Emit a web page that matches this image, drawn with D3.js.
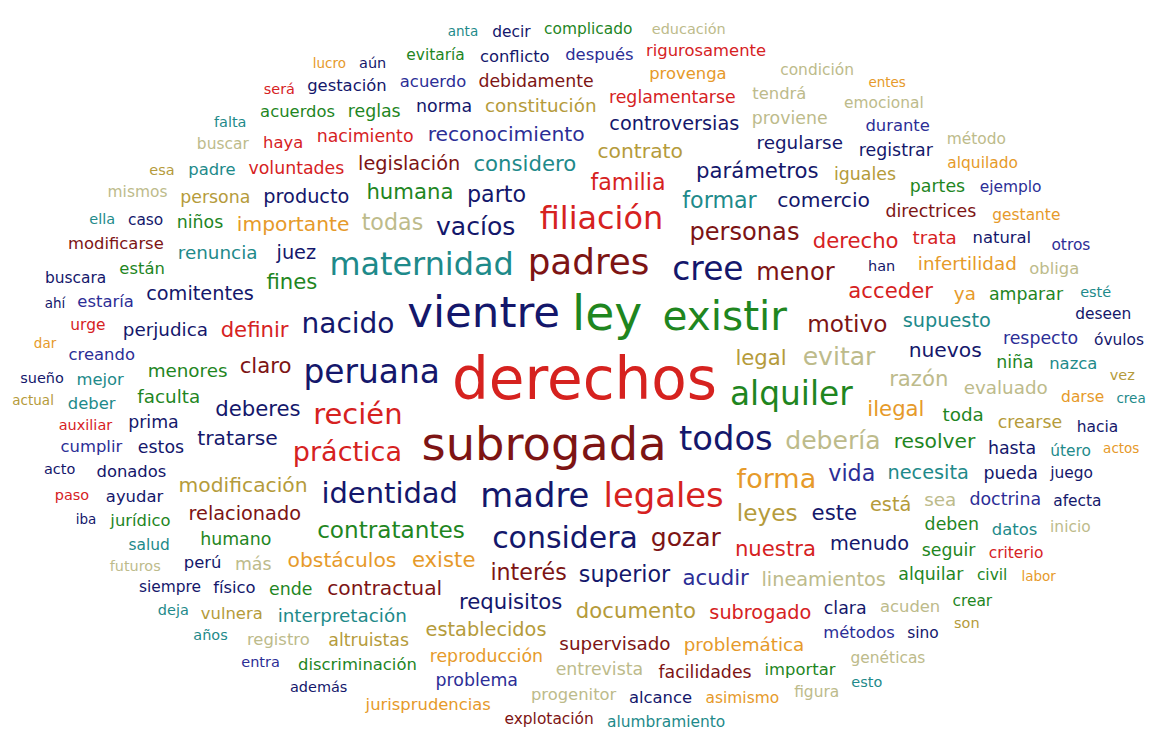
<!DOCTYPE html>
<html>
<head>
<meta charset="utf-8">
<script src="https://cdn.jsdelivr.net/npm/d3@7"></script>
<style>
  html, body { margin: 0; background: #fff; }
  svg { display: block; }
</style>
</head>
<body>
<div id="cloud"></div>
<script>
const width = 1158;
const height = 751;

// colour groups: 0 navy, 1 blue, 2 red, 3 maroon, 4 green, 5 teal, 6 orange, 7 olive, 8 khaki
const groupColors = ["#14176b", "#2c2e96", "#d6221f", "#7d1414", "#1f861f", "#1e8a8a", "#e69a2a", "#b59b3b", "#bdbb8b"];

// [word, frequency, colour group]
const topWords = [
    ["derechos", 47, 2], ["ley", 36, 4], ["subrogada", 35, 3], ["vientre", 32, 0],
    ["existir", 29, 4], ["padres", 24, 3], ["todos", 22, 0], ["madre", 22, 0],
    ["legales", 22, 2], ["alquiler", 21, 4], ["peruana", 21, 0], ["cree", 21, 0],
    ["maternidad", 20, 5], ["filiación", 20, 2], ["considera", 18, 0], ["recién", 17, 2],
    ["identidad", 17, 0], ["nacido", 16, 0], ["práctica", 15, 2], ["forma", 15, 6],
    ["debería", 13, 8], ["evitar", 13, 8], ["vacíos", 13, 0], ["gozar", 13, 3]
];

const midWords = [
    ["personas", 12, 3], ["menor", 12, 3], ["contratantes", 11, 4], ["motivo", 11, 3],
    ["leyes", 11, 7], ["parto", 10, 0], ["interés", 10, 3], ["superior", 10, 0],
    ["formar", 10, 5], ["familia", 10, 2], ["todas", 10, 8], ["vida", 10, 1],
    ["existe", 9, 6], ["legal", 9, 7], ["nuestra", 9, 2], ["ilegal", 9, 6],
    ["deberes", 9, 0], ["claro", 9, 3], ["acceder", 9, 2], ["acudir", 9, 1],
    ["considero", 9, 5], ["este", 9, 0], ["humana", 9, 4], ["fines", 9, 4],
    ["definir", 9, 2], ["requisitos", 9, 0], ["derecho", 9, 2], ["documento", 9, 7],
    ["razón", 9, 8], ["parámetros", 9, 0], ["contrato", 8, 7], ["comercio", 8, 0],
    ["modificación", 8, 7], ["reconocimiento", 8, 1], ["obstáculos", 8, 6], ["importante", 8, 6],
    ["tratarse", 8, 0], ["resolver", 8, 4], ["contractual", 8, 3], ["nuevos", 8, 0],
    ["juez", 7, 0], ["legislación", 7, 3], ["supuesto", 7, 5], ["necesita", 7, 5],
    ["está", 7, 7], ["lineamientos", 7, 8], ["establecidos", 7, 7], ["menudo", 7, 0],
    ["relacionado", 7, 3], ["subrogado", 7, 2], ["controversias", 7, 0], ["producto", 7, 0],
    ["comitentes", 7, 0]
];

const smallWords = [
    ["supervisado", 6, 3], ["menores", 6, 4], ["toda", 6, 4], ["infertilidad", 6, 6],
    ["renuncia", 6, 5], ["constitución", 6, 7], ["evaluado", 6, 8], ["regularse", 6, 0],
    ["perjudica", 6, 0], ["faculta", 6, 4], ["sea", 6, 8], ["interpretación", 6, 5],
    ["ya", 6, 6], ["trata", 6, 2], ["problemática", 6, 6],
    ["reglamentarse", 5, 2], ["directrices", 5, 3], ["iguales", 5, 7], ["nacimiento", 5, 2],
    ["voluntades", 5, 2], ["humano", 5, 4], ["deben", 5, 4], ["prima", 5, 0],
    ["niña", 5, 4], ["reproducción", 5, 6], ["estos", 5, 0], ["más", 5, 8],
    ["entrevista", 5, 8], ["ende", 5, 4], ["clara", 5, 0], ["proviene", 5, 8],
    ["hasta", 5, 0], ["norma", 5, 0], ["crearse", 5, 7], ["debidamente", 5, 3],
    ["altruistas", 5, 7], ["seguir", 5, 4], ["alquilar", 5, 4], ["doctrina", 5, 1],
    ["pueda", 5, 0], ["respecto", 5, 1], ["facilidades", 5, 3], ["amparar", 5, 4],
    ["persona", 5, 7], ["niños", 5, 4], ["partes", 5, 4], ["registrar", 5, 0],
    ["reglas", 5, 4], ["problema", 5, 1]
];

const tinyWords = [
    ["natural", 4, 0], ["métodos", 4, 1], ["provenga", 4, 6], ["donados", 4, 0],
    ["acuden", 4, 8], ["acuerdo", 4, 1], ["discriminación", 4, 4], ["haya", 4, 2],
    ["creando", 4, 1], ["están", 4, 4], ["tendrá", 4, 8], ["ayudar", 4, 0],
    ["perú", 4, 0], ["mejor", 4, 5], ["físico", 4, 0], ["progenitor", 4, 8],
    ["jurídico", 4, 4], ["datos", 4, 5], ["nazca", 4, 5], ["alcance", 4, 0],
    ["estaría", 4, 1], ["importar", 4, 4], ["durante", 4, 1], ["después", 4, 1],
    ["padre", 4, 5], ["conflicto", 4, 0], ["acuerdos", 4, 4], ["modificarse", 4, 3],
    ["deber", 4, 5], ["cumplir", 4, 1], ["obliga", 4, 8], ["vulnera", 4, 7],
    ["rigurosamente", 4, 2], ["gestación", 4, 0], ["registro", 4, 8], ["jurisprudencias", 4, 6],
    ["criterio", 3, 2], ["gestante", 3, 6], ["asimismo", 3, 6], ["útero", 3, 5],
    ["darse", 3, 6], ["emocional", 3, 8], ["caso", 3, 0], ["urge", 3, 2],
    ["salud", 3, 5], ["juego", 3, 0], ["buscar", 3, 8], ["ejemplo", 3, 1],
    ["civil", 3, 4], ["alquilado", 3, 6], ["evitaría", 3, 4], ["explotación", 3, 3],
    ["siempre", 3, 0], ["genéticas", 3, 8], ["sino", 3, 0], ["crear", 3, 4],
    ["hacia", 3, 0], ["deseen", 3, 0], ["alumbramiento", 3, 5], ["condición", 3, 8],
    ["mismos", 3, 8], ["buscara", 3, 0], ["complicado", 3, 4], ["afecta", 3, 0],
    ["otros", 3, 1], ["figura", 3, 8], ["inicio", 3, 8], ["método", 3, 8],
    ["óvulos", 3, 0], ["decir", 3, 0],
    ["auxiliar", 2, 2], ["han", 2, 0], ["esté", 2, 5], ["futuros", 2, 8],
    ["falta", 2, 5], ["aún", 2, 0], ["será", 2, 2], ["esa", 2, 7],
    ["sueño", 2, 0], ["acto", 2, 0], ["además", 2, 0], ["son", 2, 7],
    ["paso", 2, 2], ["deja", 2, 5], ["años", 2, 5], ["entra", 2, 1],
    ["vez", 2, 7], ["esto", 2, 5], ["ella", 2, 5], ["educación", 2, 8],
    ["labor", 1, 6], ["dar", 1, 6], ["actos", 1, 6], ["entes", 1, 6],
    ["anta", 1, 5], ["ahí", 1, 0], ["actual", 1, 7], ["iba", 1, 0],
    ["lucro", 1, 6], ["crea", 1, 5]
];

const fontFamily = '"DejaVu Sans", Verdana, sans-serif';
const allWords = [...topWords, ...midWords, ...smallWords, ...tinyWords];

const sizeScale = d3.scaleLinear()
    .domain(d3.extent(allWords, d => d[1]))
    .range([13.5, 58]);

const colorScale = d3.scaleOrdinal()
    .domain(d3.range(groupColors.length))
    .range(groupColors);

// measure every word with a canvas, using the font's own line box
const ctx = document.createElement("canvas").getContext("2d");
const nodes = allWords.map(([text, count, group], i) => {
    const size = sizeScale(count);
    ctx.font = `${size}px ${fontFamily}`;
    const m = ctx.measureText(text);
    return {
        text, count, group, size, i,
        w: m.width,
        asc: m.fontBoundingBoxAscent || size * 0.93,
        desc: m.fontBoundingBoxDescent || size * 0.24
    };
}).sort((a, b) => b.count - a.count || a.i - b.i);

// spiral layout (like d3-cloud, boxes instead of sprites); starts on the left
const padX = 12, padY = 4;
const ratio = width / height;
const placed = [];
let lastHit = null;

const overlaps = (a, b) =>
    a.x0 < b.x1 + padX && a.x1 + padX > b.x0 &&
    a.y0 < b.y1 + padY && a.y1 + padY > b.y0;

nodes.forEach(d => {
    const h = d.asc + d.desc;
    let theta = 0;
    for (let step = 0; step < 400000; step++) {
        const r = theta;
        if (r > width) break;
        const px = width / 2 - ratio * r * Math.cos(theta);
        const py = height / 2 + r * Math.sin(theta);
        theta += Math.min(0.1, 2.5 / Math.max(r, 1));

        const box = { x0: px - d.w / 2, x1: px + d.w / 2, y0: py - h / 2, y1: py + h / 2 };
        if (box.x0 < 3 || box.x1 > width - 3 || box.y0 < 0 || box.y1 > height) continue;
        if (lastHit && overlaps(box, lastHit)) continue;
        const hit = placed.find(p => overlaps(box, p));
        if (hit) { lastHit = hit; continue; }

        d.box = box;
        placed.push(box);
        break;
    }
});

const shown = nodes.filter(d => d.box);

// centre the finished cloud in the frame
const x0 = d3.min(shown, d => d.box.x0), x1 = d3.max(shown, d => d.box.x1);
const y0 = d3.min(shown, d => d.box.y0), y1 = d3.max(shown, d => d.box.y1);
const xScale = d3.scaleLinear()
    .domain([x0, x1])
    .range([(width - (x1 - x0)) / 2, (width + (x1 - x0)) / 2]);
const yScale = d3.scaleLinear()
    .domain([y0, y1])
    .range([(height - (y1 - y0)) / 2, (height + (y1 - y0)) / 2]);

const svg = d3.select("#cloud")
    .append("svg")
        .attr("width", width)
        .attr("height", height);

svg.append("rect")
    .attr("width", width)
    .attr("height", height)
    .attr("fill", "#ffffff");

svg.append("g")
        .attr("font-family", fontFamily)
    .selectAll("text")
    .data(shown)
    .join("text")
        .attr("x", d => xScale(d.box.x0))
        .attr("y", d => yScale(d.box.y0 + d.asc))
        .attr("font-size", d => d.size)
        .attr("fill", d => colorScale(d.group))
        .text(d => d.text);
</script>
</body>
</html>
